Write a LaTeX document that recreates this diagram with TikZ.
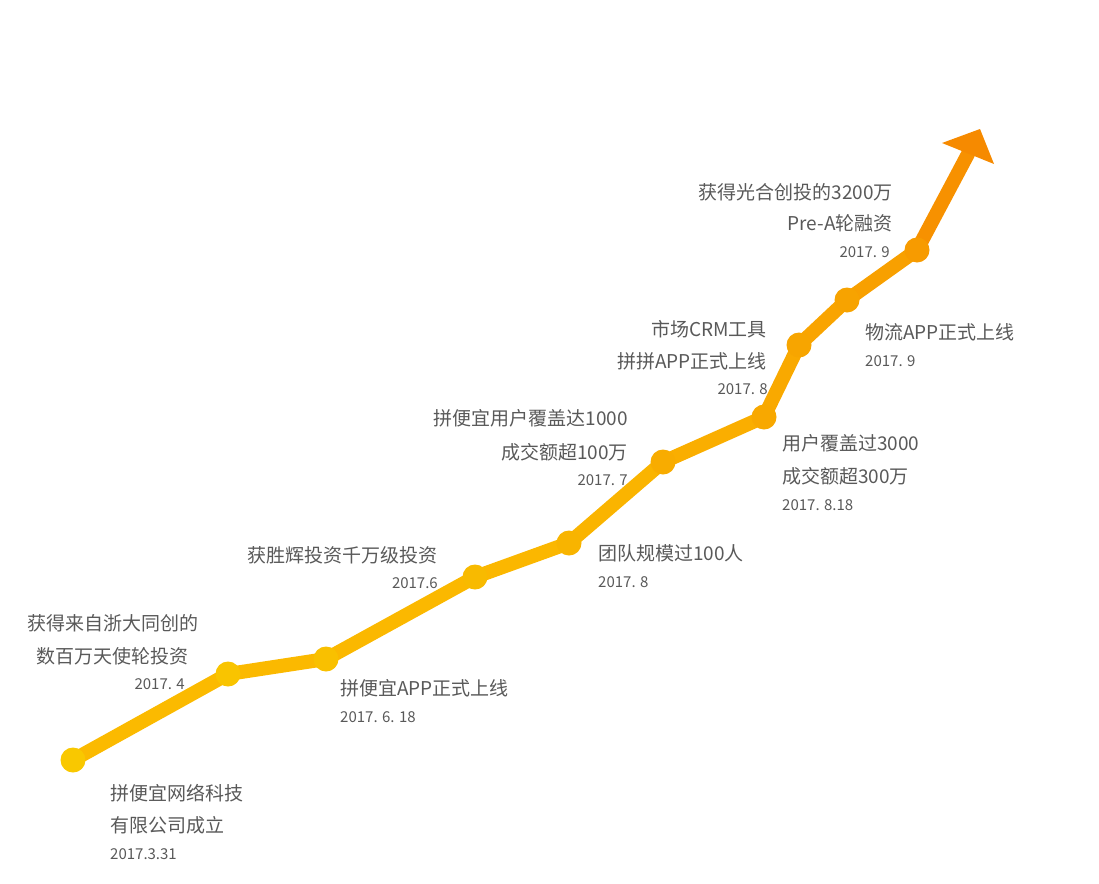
\documentclass[tikz,border=0pt]{standalone}
\usepackage{fontspec}
\setmainfont{Noto Sans CJK SC}
\usetikzlibrary{calc}
\definecolor{txtgray}{HTML}{595959}
\definecolor{lnstart}{HTML}{FBBA00}
\definecolor{lnend}{HTML}{F68A00}
\definecolor{dotstart}{HTML}{F9C800}
\definecolor{dotend}{HTML}{F79B00}
\def\lw{14pt}
\def\dotr{12.5pt}
\begin{document}
\begin{tikzpicture}[x=1pt,y=-1pt,
	dot/.style={circle,minimum size=2*\dotr,inner sep=0pt},
	ttl/.style={inner sep=0pt,text=txtgray,font=\fontsize{19}{19}\selectfont},
	dt/.style={inner sep=0pt,text=txtgray,font=\fontsize{15}{15}\selectfont},
	seg/.style={line width=\lw,line cap=round,line join=round}
	]
	\useasboundingbox (0,0) rectangle (1099,883);
	
	\coordinate (p1) at (73,760);
	\coordinate (p2) at (228,674);
	\coordinate (p3) at (326,659);
	\coordinate (p4) at (475,577);
	\coordinate (p5) at (569,543);
	\coordinate (p6) at (663,462);
	\coordinate (p7) at (764,417);
	\coordinate (p8) at (799,345);
	\coordinate (p9) at (847,300);
	\coordinate (p10) at (917,250);
	\coordinate (base) at (968,154);
	
	% the rising line, yellow to orange
	\foreach \a/\b/\c in {p1/p2/0,p2/p3/2,p3/p4/4,p4/p5/7,p5/p6/12,p6/p7/25,p7/p8/35,p8/p9/45,p9/p10/55,p10/base/85}
		\draw[seg,color=lnend!\c!lnstart] (\a) -- (\b);
	\fill[lnend] (942,143) coordinate (al) -- (980,129) coordinate (tip) -- (994,164) coordinate (ar) -- cycle;
	
	\foreach \i/\c in {1/0,2/9,3/18,4/31,5/44,6/62,7/71,8/78,9/82,10/100}
		\node[dot,fill=dotend!\c!dotstart] (d\i) at (p\i) {};
	
	% labels
	\node[ttl,anchor=west] (t1a) at (110,793) {拼便宜网络科技};
	\node[ttl,anchor=west] (t1b) at (110,825) {有限公司成立};
	\node[dt,anchor=west] (t1d) at (110,854) {2017.3.31};
	
	\node[ttl] (t2a) at (113,623) {获得来自浙大同创的};
	\node[ttl] (t2b) at (112,656) {数百万天使轮投资};
	\node[dt,anchor=east] (t2d) at (185,684) {2017. 4};
	
	\node[ttl,anchor=east] (t3a) at (438,555) {获胜辉投资千万级投资};
	\node[dt,anchor=east] (t3d) at (438,583) {2017.6};
	
	\node[ttl,anchor=west] (t4a) at (340,688) {拼便宜APP正式上线};
	\node[dt,anchor=west] (t4d) at (340,717) {2017. 6. 18};
	
	\node[ttl,anchor=west] (t5a) at (598,553) {团队规模过100人};
	\node[dt,anchor=west] (t5d) at (598,582) {2017. 8};
	
	\node[ttl,anchor=east] (t6a) at (628,418) {拼便宜用户覆盖达1000};
	\node[ttl,anchor=east] (t6b) at (628,452) {成交额超100万};
	\node[dt,anchor=east] (t6d) at (628,480) {2017. 7};
	
	\node[ttl,anchor=west] (t7a) at (782,443) {用户覆盖过3000};
	\node[ttl,anchor=west] (t7b) at (782,476) {成交额超300万};
	\node[dt,anchor=west] (t7d) at (782,505) {2017. 8.18};
	
	\node[ttl,anchor=east] (t8a) at (767,329) {市场CRM工具};
	\node[ttl,anchor=east] (t8b) at (767,361) {拼拼APP正式上线};
	\node[dt,anchor=east] (t8d) at (768,389) {2017. 8};
	
	\node[ttl,anchor=west] (t9a) at (865,332) {物流APP正式上线};
	\node[dt,anchor=west] (t9d) at (865,361) {2017. 9};
	
	\node[ttl,anchor=east] (t10a) at (893,192) {获得光合创投的3200万};
	\node[ttl,anchor=east] (t10b) at (893,223) {Pre-A轮融资};
	\node[dt,anchor=east] (t10d) at (890,252) {2017. 9};
\end{tikzpicture}
\end{document}
